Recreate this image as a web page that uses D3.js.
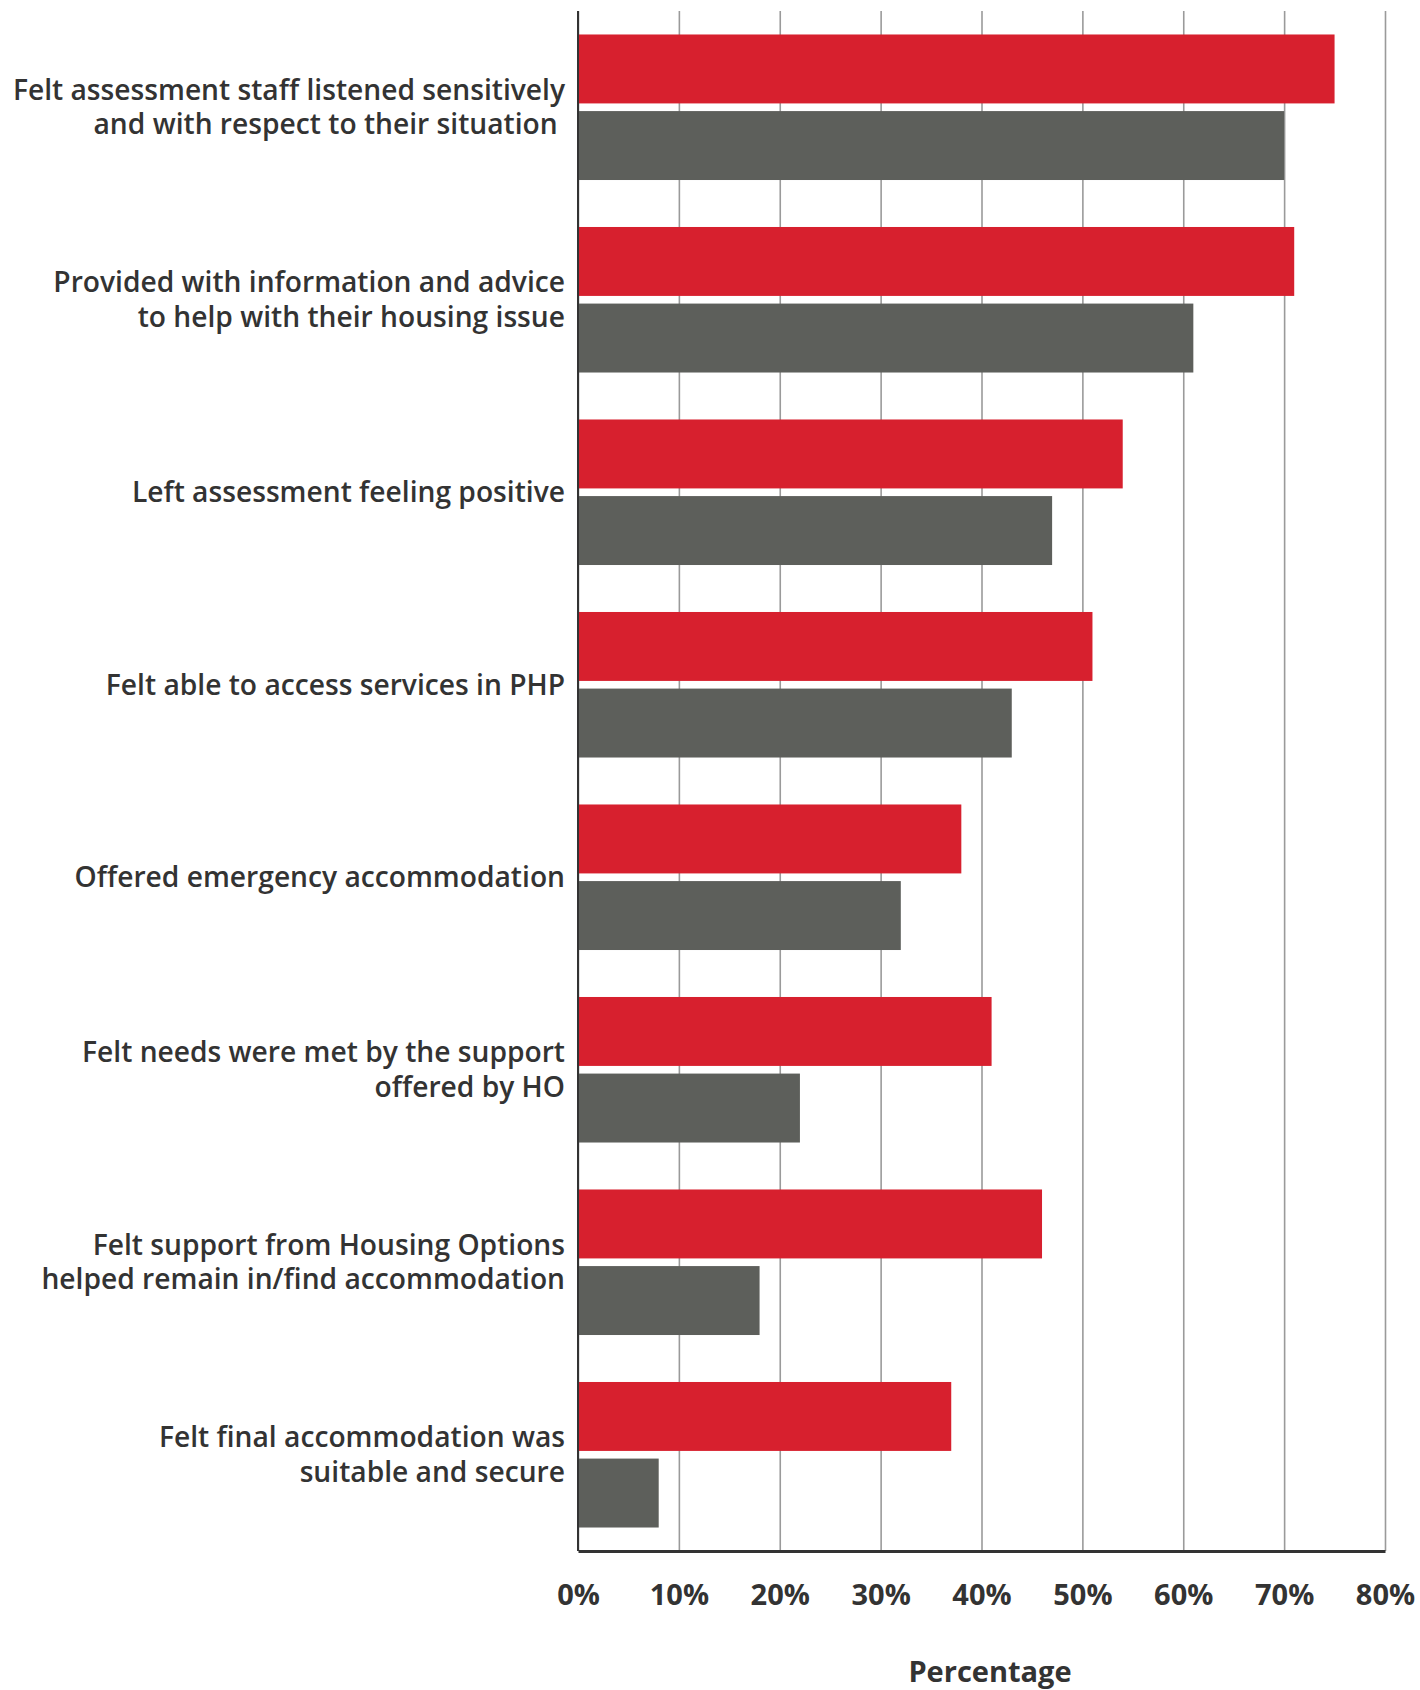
<!DOCTYPE html>
<html>
<head>
<meta charset="utf-8">
<script src="https://cdn.jsdelivr.net/npm/d3@7"></script>
<style>
  body { margin: 0; background: #fff; }
  text { font-family: "Open Sans", "Noto Sans", sans-serif; fill: #333; }
</style>
</head>
<body>
<div id="chart"></div>
<script>
// Chart data
var categories = [
  ["Felt assessment staff listened sensitively", "and with respect to their situation\u00a0"],
  ["Provided with information and advice", "to help with their housing issue"],
  ["Left assessment feeling positive"],
  ["Felt able to access services in PHP"],
  ["Offered emergency accommodation"],
  ["Felt needs were met by the support", "offered by HO"],
  ["Felt support from Housing Options", "helped remain in/find accommodation"],
  ["Felt final accommodation was", "suitable and secure"]
];
var redValues = [75, 71, 54, 51, 38, 41, 46, 37];
var greyValues = [70, 61, 47, 43, 32, 22, 18, 8];
var seriesKeys = ["red", "grey"];
var tickValues = [0, 10, 20, 30, 40, 50, 60, 70, 80];
var xTitle = "Percentage";

var svgWidth = 1420;
var svgHeight = 1690;
var margin = { top: 11, right: 35, bottom: 139, left: 578 };
var width = svgWidth - margin.left - margin.right;
var height = svgHeight - margin.top - margin.bottom;

var colors = { red: "#d7202e", grey: "#5d5f5b" };

var rows = categories.map(function(c, i) {
  return { key: i, lines: c, red: redValues[i], grey: greyValues[i] };
});

var svg = d3.select("#chart").append("svg")
  .attr("width", svgWidth)
  .attr("height", svgHeight);

var g = svg.append("g")
  .attr("transform", `translate(${margin.left}, ${margin.top})`);

var x = d3.scaleLinear().domain([0, 80]).range([0, width]);

var y0 = d3.scaleBand()
  .domain(rows.map(d => d.key))
  .range([0, height])
  .paddingInner(0.244)
  .paddingOuter(0.122);

var y1 = d3.scaleBand()
  .domain(seriesKeys)
  .range([0, y0.bandwidth()])
  .paddingInner(0.1);

// vertical gridlines
var grid = g.append("g")
  .attr("transform", `translate(0, ${height})`)
  .call(d3.axisBottom(x).tickValues(tickValues).tickSize(-height).tickFormat(""));
grid.select(".domain").remove();
grid.selectAll("line").attr("stroke", "#9a9a9a").attr("stroke-width", 1.6);

// bars
var groups = g.selectAll(".group")
  .data(rows)
  .enter()
  .append("g")
  .attr("class", "group")
  .attr("transform", d => `translate(0, ${y0(d.key)})`);

groups.selectAll("rect")
  .data(d => seriesKeys.map(k => ({ key: k, value: d[k] })))
  .enter()
  .append("rect")
  .attr("x", x(0))
  .attr("y", d => y1(d.key))
  .attr("width", d => x(d.value) - x(0))
  .attr("height", y1.bandwidth())
  .attr("fill", d => colors[d.key]);

// category labels
var lineH = 34.5;
groups.append("text")
  .attr("text-anchor", "end")
  .attr("font-size", 28.2)
  .attr("font-weight", 600)
  .each(function(d) {
    var t = d3.select(this);
    var n = d.lines.length;
    d.lines.forEach(function(line, i) {
      t.append("tspan")
        .attr("x", -13)
        .attr("y", y0.bandwidth() / 2 + (i - (n - 1) / 2) * lineH)
        .attr("dy", "0.35em")
        .text(line);
    });
  });

// left axis line
g.append("line")
  .attr("x1", 0).attr("x2", 0)
  .attr("y1", 0).attr("y2", height)
  .attr("stroke", "#333").attr("stroke-width", 2);

// bottom axis
var xAxis = g.append("g")
  .attr("transform", `translate(0, ${height})`)
  .call(d3.axisBottom(x).tickValues(tickValues).tickSize(0).tickPadding(33).tickFormat(d => d + "%"));
xAxis.select(".domain").attr("stroke", "#333").attr("stroke-width", 3);
xAxis.selectAll("text")
  .attr("font-size", 29)
  .attr("font-weight", 700)
  .style("font-family", "\"Open Sans\", sans-serif")
  .attr("fill", "#333");

// x title
g.append("text")
  .attr("x", 412)
  .attr("y", height + 131)
  .attr("text-anchor", "middle")
  .attr("font-size", 29)
  .attr("font-weight", 700)
  .text(xTitle);
</script>
</body>
</html>
